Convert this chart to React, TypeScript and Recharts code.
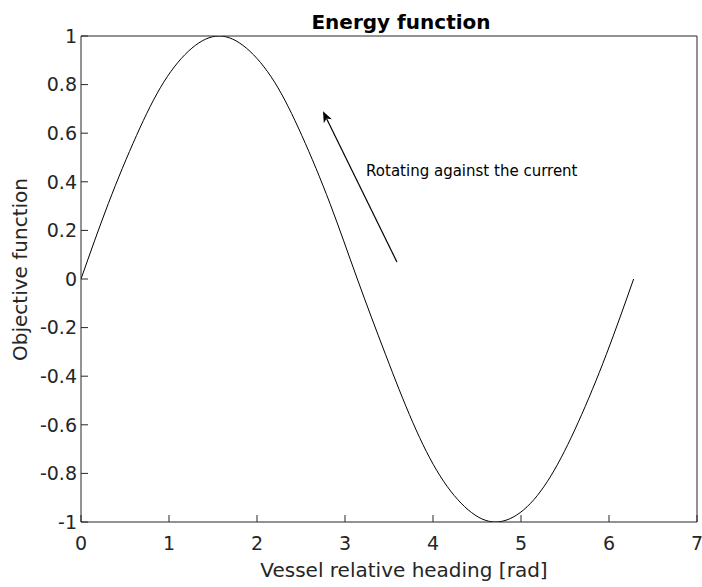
import React from 'react';
import {
  LineChart,
  Line,
  XAxis,
  YAxis,
  Label,
  ReferenceLine,
  ReferenceDot,
} from 'recharts';

// heading [rad]
const headings = [
  0, 0.31, 0.63, 0.94, 1.26, 1.57, 1.88, 2.2, 2.51, 2.83, 3.14, 3.46, 3.77,
  4.08, 4.4, 4.71, 5.03, 5.34, 5.65, 5.97, 6.28,
];
// objective value at each heading
const objective = [
  0, 0.31, 0.59, 0.81, 0.95, 1, 0.95, 0.81, 0.59, 0.31, 0, -0.31, -0.59, -0.81,
  -0.95, -1, -0.95, -0.81, -0.59, -0.31, 0,
];
const xTicks = [0, 1, 2, 3, 4, 5, 6, 7];
const yTicks = [-1, -0.8, -0.6, -0.4, -0.2, 0, 0.2, 0.4, 0.6, 0.8, 1];

// annotation: arrow from tail to tip, and the text beside it
const arrowTail = { x: 3.59, y: 0.07 };
const arrowTip = { x: 2.75, y: 0.69 };
const noteAt = { x: 3.24, y: 0.425 };
const noteText = 'Rotating against the current';

const data = headings.map((x, i) => ({ x, y: objective[i] }));

const INK = '#262626';
const FONT = '"DejaVu Sans", Verdana, sans-serif';

const fmt = (v: number) => String(Math.round(v * 10) / 10);

const Arrow = (props: any) => {
  const { x1, y1, x2, y2 } = props;
  const dx = x2 - x1;
  const dy = y2 - y1;
  const len = Math.sqrt(dx * dx + dy * dy);
  const ux = dx / len;
  const uy = dy / len;
  const headLen = 11;
  const halfW = 4.5;
  const bx = x2 - ux * headLen;
  const by = y2 - uy * headLen;
  const nx = x2 - ux * (headLen - 3);
  const ny = y2 - uy * (headLen - 3);
  const pts = [
    `${x2},${y2}`,
    `${bx - uy * halfW},${by + ux * halfW}`,
    `${nx},${ny}`,
    `${bx + uy * halfW},${by - ux * halfW}`,
  ].join(' ');
  return (
    <g>
      <line x1={x1} y1={y1} x2={nx} y2={ny} stroke="#000" strokeWidth={1.2} />
      <polygon points={pts} fill="#000" />
    </g>
  );
};

const Note = (props: any) => (
  <text
    x={props.cx}
    y={props.cy}
    fontSize={15}
    fontFamily={FONT}
    fill="#000"
    textAnchor="start"
  >
    {noteText}
  </text>
);

export default function App() {
  return (
    <div style={{ position: 'absolute', left: 0, top: 0, width: 702, height: 587, background: '#fff' }}>
      <LineChart
        width={702}
        height={587}
        data={data}
        margin={{ top: 35, right: 0, bottom: 0, left: 0 }}
      >
        <XAxis
          dataKey="x"
          type="number"
          domain={[0, 7]}
          ticks={xTicks}
          height={65}
          tickSize={-7}
          tickMargin={22}
          stroke={INK}
          tick={{ fill: INK, fontSize: 19, fontFamily: FONT }}
          allowDataOverflow
        >
          <Label
            content={() => (
              <text
                x={404}
                y={577}
                textAnchor="middle"
                fontSize={20}
                fontFamily={FONT}
                fill={INK}
              >
                Vessel relative heading [rad]
              </text>
            )}
          />
        </XAxis>
        <XAxis
          xAxisId="top"
          orientation="top"
          dataKey="x"
          type="number"
          domain={[0, 7]}
          ticks={xTicks}
          height={1}
          tickSize={-7}
          tick={false}
          stroke={INK}
          allowDataOverflow
        >
          <Label
            content={() => (
              <text
                x={401}
                y={29}
                textAnchor="middle"
                fontSize={20}
                fontWeight="bold"
                fontFamily={FONT}
                fill="#000"
              >
                Energy function
              </text>
            )}
          />
        </XAxis>
        <YAxis
          type="number"
          domain={[-1, 1]}
          ticks={yTicks}
          width={81}
          tickSize={-7}
          tickMargin={11}
          tickFormatter={fmt}
          stroke={INK}
          tick={{ fill: INK, fontSize: 19, fontFamily: FONT }}
          allowDataOverflow
        >
          <Label
            content={() => (
              <text
                x={27}
                y={269.5}
                transform="rotate(-90, 27, 269.5)"
                textAnchor="middle"
                fontSize={20}
                fontFamily={FONT}
                fill={INK}
              >
                Objective function
              </text>
            )}
          />
        </YAxis>
        <YAxis
          yAxisId="right"
          orientation="right"
          type="number"
          domain={[-1, 1]}
          ticks={yTicks}
          width={5}
          tickSize={-7}
          tick={false}
          stroke={INK}
          allowDataOverflow
        />
        <Line
          type="natural"
          dataKey="y"
          stroke="#000"
          strokeWidth={1}
          dot={false}
          isAnimationActive={false}
        />
        <ReferenceLine
          segment={[arrowTail, arrowTip]}
          shape={Arrow}
        />
        <ReferenceDot x={noteAt.x} y={noteAt.y} r={0} shape={Note} />
      </LineChart>
    </div>
  );
}
